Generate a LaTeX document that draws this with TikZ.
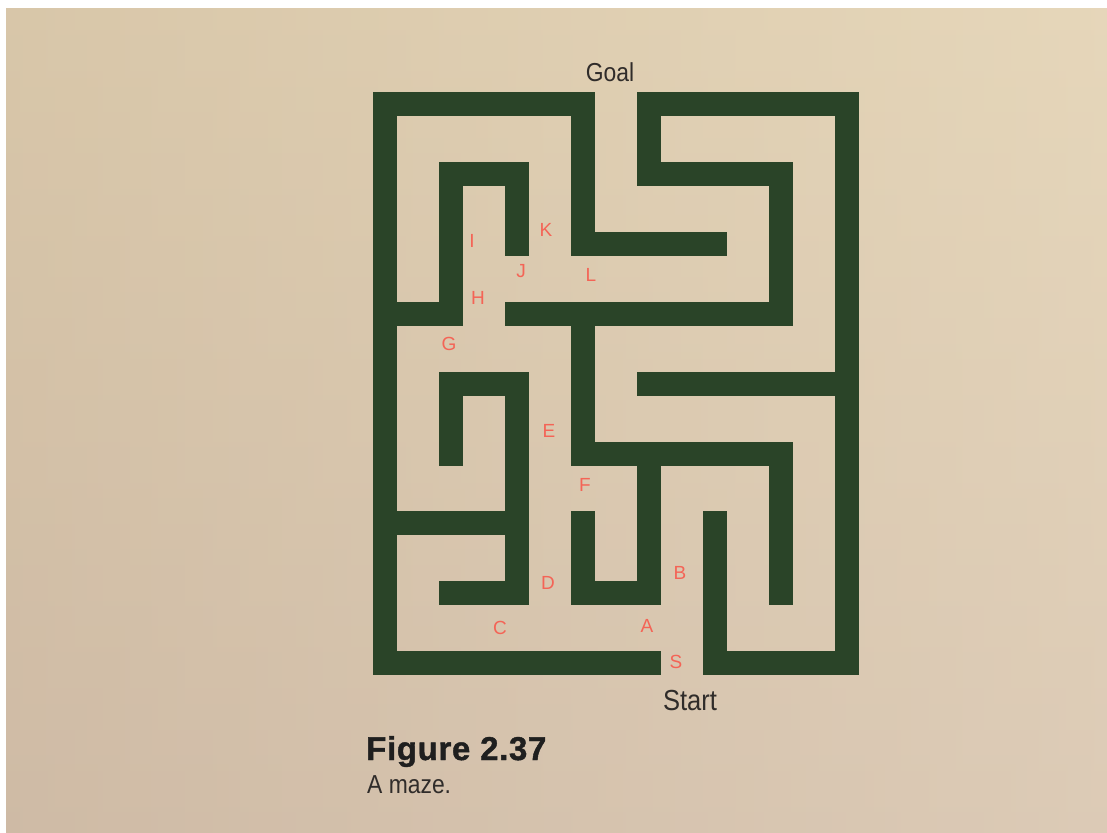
\documentclass[tikz,border=0pt]{standalone}
\usepackage{fontspec}
\setmainfont{Liberation Sans}
\newfontfamily\narrowsans[FakeStretch=0.88]{Liberation Sans}
\newfontfamily\heavysans[FakeBold=1.2,LetterSpace=2]{Liberation Sans Bold}
\definecolor{mazegreen}{RGB}{42,68,40}
\definecolor{labelred}{RGB}{244,100,86}
\definecolor{inkgray}{RGB}{48,44,42}
\definecolor{papertop}{RGB}{226,210,178}
\definecolor{paperbot}{RGB}{210,190,172}
\definecolor{paperleft}{RGB}{202,182,156}
\definecolor{paperright}{RGB}{236,222,198}
\begin{document}
\begin{tikzpicture}[x=1pt,y=-1pt,
  wall/.style={draw=mazegreen,line width=24pt,line cap=rect,line join=miter},
  lbl/.style={text=labelred,font=\fontsize{19}{19}\selectfont,inner sep=0pt},
  endtxt/.style={text=inkgray,inner sep=0pt},
]
\useasboundingbox (0,0) rectangle (1107,832);
\fill[white] (0,0) rectangle (1107,832);
\shade[top color=papertop,bottom color=paperbot] (6,9) rectangle (1107,832);
\shade[left color=paperleft,right color=paperright,opacity=0.4] (6,9) rectangle (1107,832);

% maze walls on a grid: columns 0..7, rows 0..8
\begin{scope}[shift={(385,104)},x=66pt,y=-69.9pt]
  \draw[wall] (5,2) -- (3,2) -- (3,0) -- (0,0) -- (0,8) -- (4,8);
  \draw[wall] (5,6) -- (5,8) -- (7,8) -- (7,0) -- (4,0) -- (4,1) -- (6,1) -- (6,3) -- (2,3);
  \draw[wall] (3,3) -- (3,5) -- (6,5) -- (6,7);
  \draw[wall] (4,5) -- (4,7) -- (3,7) -- (3,6);
  \draw[wall] (4,4) -- (7,4);
  \draw[wall] (0,3) -- (1,3) -- (1,1) -- (2,1) -- (2,2);
  \draw[wall] (1,5) -- (1,4) -- (2,4) -- (2,7) -- (1,7);
  \draw[wall] (0,6) -- (2,6);
\end{scope}

% labels
\node[lbl] (I) at (472,241) {I};
\node[lbl] (K) at (546,230) {K};
\node[lbl] (J) at (521,271) {J};
\node[lbl] (L) at (591,275) {L};
\node[lbl] (H) at (478,298) {H};
\node[lbl] (G) at (449,344) {G};
\node[lbl] (E) at (549,431) {E};
\node[lbl] (F) at (585,485) {F};
\node[lbl] (D) at (548,583) {D};
\node[lbl] (B) at (680,573) {B};
\node[lbl] (C) at (500,628) {C};
\node[lbl] (A) at (647,626) {A};
\node[lbl] (S) at (676,662) {S};

\node[endtxt,anchor=base,font=\narrowsans\fontsize{26}{26}\selectfont] (goal) at (610,82) {Goal};
\node[endtxt,anchor=base,font=\narrowsans\fontsize{29}{29}\selectfont] (start) at (690,710) {Start};

\node[anchor=base west,inner sep=0pt,text=black!88,font=\heavysans\fontsize{33}{33}\selectfont] (figlabel) at (366,760) {Figure 2.37};
\node[anchor=base west,inner sep=0pt,text=inkgray,font=\narrowsans\fontsize{26}{26}\selectfont] (figcap) at (367,793) {A maze.};
\end{tikzpicture}
\end{document}
